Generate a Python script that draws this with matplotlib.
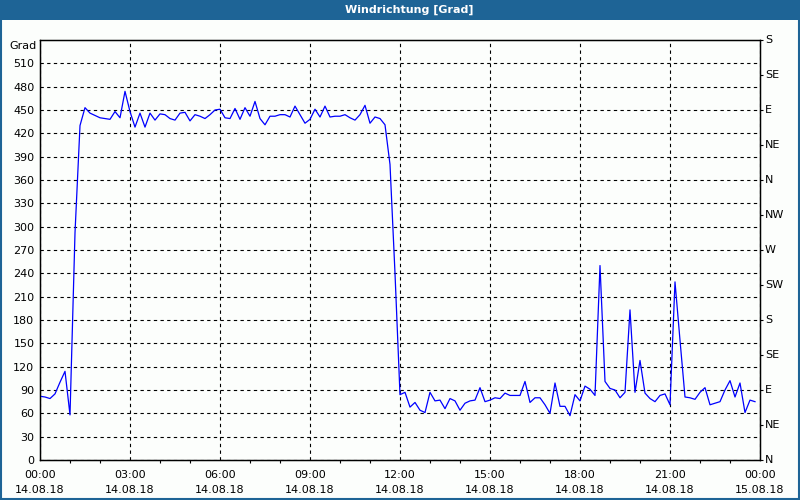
import pandas as pd
import matplotlib
matplotlib.use('Agg')
import matplotlib.pyplot as plt
import matplotlib.dates as mdates
from matplotlib.patches import Rectangle

# wind direction in degrees, 10 minute values starting 14.08.18 00:00
direction = [
    82, 81, 79, 85, 100, 114, 58, 292, 430, 453, 446, 443,
    440, 439, 438, 448, 440, 474, 448, 428, 446, 428, 446, 437,
    445, 444, 439, 437, 446, 447, 436, 444, 442, 439, 444, 450,
    451, 440, 439, 452, 438, 453, 442, 461, 439, 431, 442, 442,
    444, 444, 441, 455, 444, 433, 438, 451, 441, 455, 441, 442,
    442, 444, 440, 437, 444, 456, 433, 441, 439, 431, 380, 240,
    84, 87, 68, 74, 64, 61, 87, 76, 77, 66, 79, 76,
    64, 73, 76, 77, 93, 75, 77, 80, 79, 86, 83, 83,
    83, 101, 74, 80, 80, 71, 60, 99, 69, 69, 57, 84,
    76, 95, 91, 83, 250, 101, 92, 90, 80, 87, 193, 87,
    128, 86, 79, 75, 83, 85, 71, 229, 154, 81, 80, 78,
    87, 93, 71, 73, 75, 90, 102, 81, 99, 61, 77, 75,
]
times = pd.date_range('2018-08-14 00:00', periods=len(direction), freq='10min')

grad_ticks = list(range(0, 511, 30))
compass_ticks = list(range(0, 541, 45))
compass_labels = ['N', 'NE', 'E', 'SE', 'S', 'SW', 'W', 'NW', 'N', 'NE', 'E', 'SE', 'S']
x_start = pd.Timestamp('2018-08-14 00:00')
x_end = pd.Timestamp('2018-08-15 00:00')

bar_color = '#1e6496'
W, H = 800, 500

fig = plt.figure(figsize=(8, 5), dpi=100)
fig.patch.set_facecolor('#fcfefc')

# title bar and window border
fig.patches.append(Rectangle((0, 1 - 20 / H), 1, 20 / H, transform=fig.transFigure,
                             facecolor=bar_color, edgecolor='none', zorder=0))
fig.patches.append(Rectangle((1 / W, 1 / H), 1 - 2 / W, 1 - 2 / H, transform=fig.transFigure,
                             fill=False, edgecolor=bar_color, lw=1.5, zorder=0))
fig.text(409 / W, 1 - 10 / H, 'Windrichtung [Grad]', color='white', fontsize=8,
         fontweight='bold', ha='center', va='center')

ax = fig.add_axes([40 / W, 40 / H, 720 / W, 420 / H])
ax.set_facecolor('#fcfefc')
ax.plot(times, direction, color='#0000ff', lw=0.9, zorder=3)

ax.set_ylim(0, 540)
ax.set_xlim(x_start, x_end)
ax.set_yticks(grad_ticks)
ax.tick_params(axis='y', length=0, pad=4, labelsize=8)

ax.xaxis.set_major_locator(mdates.HourLocator(interval=3))
ax.xaxis.set_minor_locator(mdates.HourLocator(interval=1))
ax.xaxis.set_major_formatter(mdates.DateFormatter('%H:%M\n%d.%m.%y'))
ax.tick_params(axis='x', which='major', length=0, pad=7, labelsize=8)
ax.tick_params(axis='x', which='minor', direction='out', length=2, width=0.8)
for lbl in ax.get_xticklabels():
    lbl.set_linespacing(1.6)

ax.grid(True, which='major', color='black', linestyle=(0, (3, 3)), linewidth=0.8)
for sp in ax.spines.values():
    sp.set_linewidth(1.0)

fig.text(37 / W, 1 - 46 / H, 'Grad', fontsize=8, ha='right', va='center')

# compass labels on the right
ax2 = ax.twinx()
ax2.set_ylim(0, 540)
ax2.set_yticks(compass_ticks)
ax2.set_yticklabels(compass_labels, va='top')
ax2.tick_params(axis='y', direction='out', length=2, width=0.8, pad=1.5, labelsize=8)
for lbl in ax2.get_yticklabels():
    lbl.set_va('center')

fig.savefig('out.png', dpi=100, facecolor=fig.get_facecolor())
